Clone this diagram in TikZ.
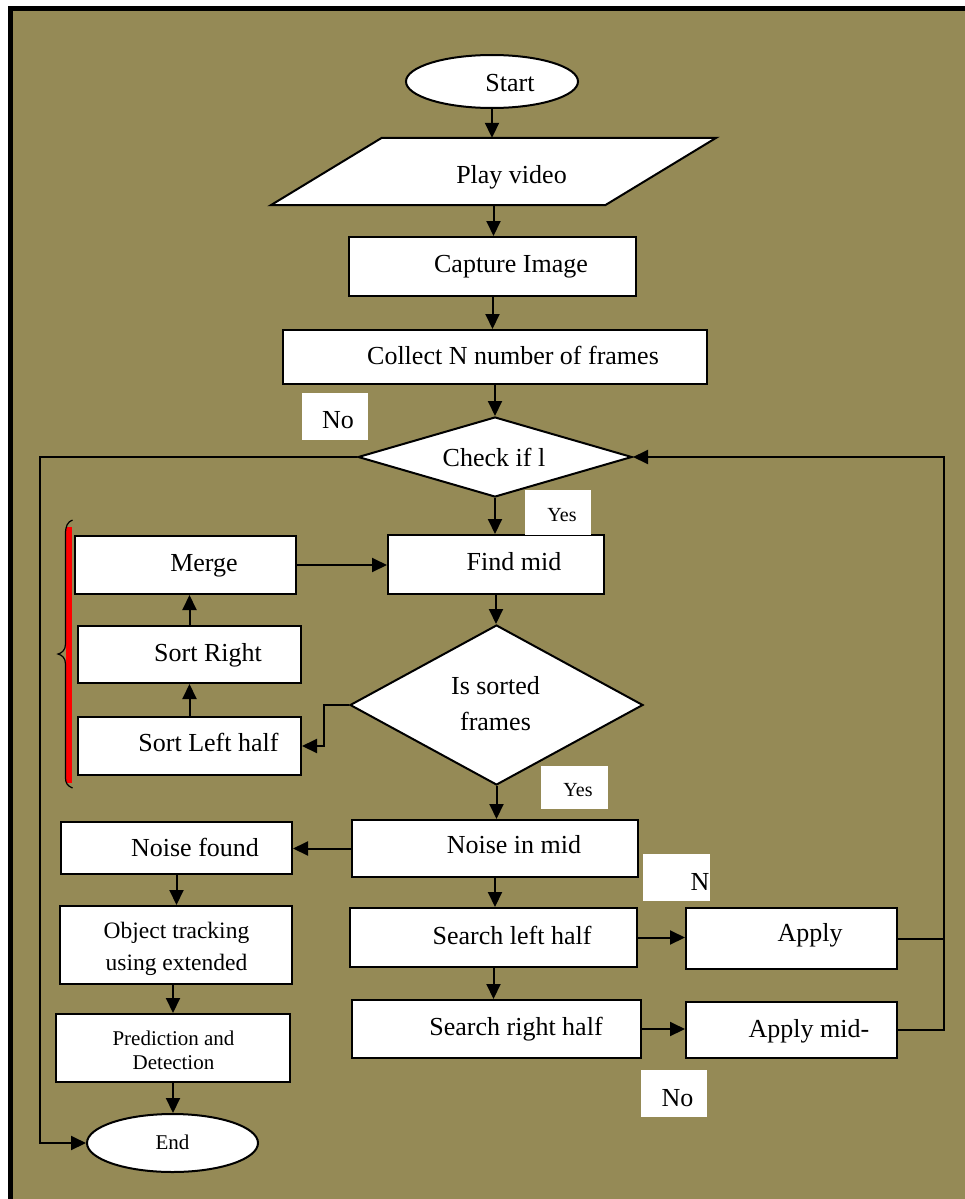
\documentclass[tikz,border=0pt]{standalone}
\usepackage{fontspec}
\setmainfont{Liberation Serif}
\usetikzlibrary{shapes.geometric,arrows.meta}
\definecolor{olivebg}{RGB}{149,138,86}
\begin{document}
\begin{tikzpicture}[x=1pt,y=-1pt,
  lbl/.style={font=\fontsize{26}{30}\selectfont, text height=17.7pt, text depth=5.7pt, inner sep=0pt},
  sml/.style={font=\fontsize{20}{24}\selectfont, text height=13.6pt, text depth=4.4pt, inner sep=0pt},
  end/.style={font=\fontsize{21}{25}\selectfont, text height=14.3pt, text depth=4.6pt, inner sep=0pt},
  box/.style 2 args={rectangle, draw, fill=white, line width=2pt, inner sep=0pt, minimum width=#1, minimum height=#2},
  term/.style 2 args={ellipse, draw, fill=white, line width=2pt, inner sep=0pt, minimum width=#1, minimum height=#2},
  dec/.style 2 args={diamond, draw, fill=white, line width=2pt, inner sep=0pt, minimum width=#1, minimum height=#2},
  frame/.style 2 args={rectangle, inner sep=0pt, minimum width=#1, minimum height=#2},
  tag/.style 2 args={rectangle, fill=white, inner sep=0pt, minimum width=#1, minimum height=#2},
  arr/.style={line width=2pt, -{Triangle[length=15pt,width=14pt]}},
  ln/.style={line width=2pt}]
\useasboundingbox (0,0) rectangle (965,1199);
% background and frame
\fill[white] (0,0) rectangle (965,1199);
\fill[olivebg] (10.8,9) rectangle (965,1199);
\draw[line width=5pt] (8.3,9) -- (965,9);
\draw[line width=5pt] (10.8,6.5) -- (10.8,1199);

% main column
\node[term={172}{53}, label={[lbl,shift={(18,4)}]center:Start}] (start) at (492,81.5) {};
\node[frame={334}{67}] (play) at (493.5,171.5) {};
\draw[line width=2pt, fill=white] ([xshift=55.5]play.north west) -- ([xshift=55.5]play.north east)
  -- ([xshift=-55.5]play.south east) -- ([xshift=-55.5]play.south west) -- cycle;
\node[lbl] (playtext) at ([shift={(18,6)}]play.center) {Play video};
\node[box={287}{59}, label={[lbl,shift={(18.5,0)}]center:Capture Image}] (capture) at (492.5,266.5) {};
\node[box={424}{54}, label={[lbl,shift={(18,1.5)}]center:Collect N number of frames}] (collect) at (495,357) {};
\node[dec={274}{80}, label={[lbl,shift={(-1,3)}]center:Check if l}] (check) at (495,457) {};
\node[box={216}{59}, label={[lbl,shift={(18,0)}]center:Find mid}] (find) at (496,564.5) {};
\node[dec={293}{160}, label={[font=\fontsize{26}{36}\selectfont, align=center, inner sep=0pt, shift={(-1,-1)}]center:Is sorted\\frames}] (sorted) at (496.5,705) {};
\node[box={286}{57}, label={[lbl,shift={(19,-1)}]center:Noise in mid}] (noisemid) at (495,848.5) {};
\node[box={287}{59}, label={[lbl,shift={(18.5,1)}]center:Search left half}] (searchl) at (493.5,937.5) {};
\node[box={289}{58}, label={[lbl,shift={(19.5,0.5)}]center:Search right half}] (searchr) at (496.5,1029) {};
\node[box={211}{61}, label={[lbl,shift={(18.5,-3)}]center:Apply}] (apply) at (791.5,938.5) {};
\node[box={211}{56}, label={[lbl,shift={(17.5,1)}]center:Apply mid-}] (applymid) at (791.5,1030) {};

% left column
\node[box={221}{58}, label={[lbl,shift={(18.5,0.5)}]center:Merge}] (merge) at (185.5,565) {};
\node[box={223}{57}, label={[lbl,shift={(18.5,1)}]center:Sort Right}] (sortr) at (189.5,654.5) {};
\node[box={223}{58}, label={[lbl,shift={(19,-0.5)}]center:Sort Left half}] (sortl) at (189.5,746) {};
\node[box={231}{52}, label={[lbl,shift={(18.5,2.5)}]center:Noise found}] (noisefound) at (176.5,848) {};
\node[box={232}{78}, label={[font=\fontsize{23.5}{32}\selectfont, align=center, inner sep=0pt, shift={(0.5,4)}]center:Object tracking\\using extended}] (track) at (176,945) {};
\node[box={234}{68}, label={[font=\fontsize{21}{24}\selectfont, align=center, inner sep=0pt, shift={(0.5,2)}]center:Prediction and\\Detection}] (pred) at (173,1048) {};
\node[term={171}{58}, label={[end,shift={(0,2)}]center:End}] (end) at (172.5,1143) {};

% brace
\fill[red] (66,527) rectangle (72,783);
\draw[line width=1.2pt] (72.5,520) .. controls (67.5,522) and (65.5,526) .. (65.5,534) -- (65.5,644) .. controls (65.5,650) and (62,653) .. (58,654) .. controls (62,655) and (65.5,658) .. (65.5,664) -- (65.5,778) .. controls (65.5,783) and (67.5,786) .. (72.5,788);

% connectors
\coordinate (lc) at (40,457);
\coordinate (rc) at (944,457);
\draw[arr] (start.south) -- (start.south |- play.north);
\draw[arr] (play.south) -- (play.south |- capture.north);
\draw[arr] (capture.south) -- (capture.south |- collect.north);
\draw[arr] (collect.south) -- (collect.south |- check.north);
\draw[arr] (check.south) -- (check.south |- find.north);
\draw[arr] (merge.east) -- (merge.east -| find.west);
\draw[arr] (find.south) -- (find.south |- sorted.north);
\draw[arr] (sortr.north) -- (sortr.north |- merge.south);
\draw[arr] (sortl.north) -- (sortl.north |- sortr.south);
\draw[arr] (sorted.west) -- ++(-25,0) |- (sortl.east);
\draw[arr] (sorted.south) -- (sorted.south |- noisemid.north);
\draw[arr] (noisemid.west) -- (noisemid.west -| noisefound.east);
\draw[arr] (noisefound.south) -- (noisefound.south |- track.north);
\draw[arr] (pred.north |- track.south) -- (pred.north);
\draw[arr] (pred.south) -- (pred.south |- end.north);
\draw[arr] (check.west) -- (lc) |- (end.west);
\draw[arr] (noisemid.south) -- (noisemid.south |- searchl.north);
\draw[arr] (searchl.east) -- (searchl.east -| apply.west);
\draw[arr] (searchl.south) -- (searchl.south |- searchr.north);
\draw[arr] (searchr.east) -- (searchr.east -| applymid.west);
\draw[ln] (apply.east) -- (apply.east -| rc);
\draw[arr] (applymid.east) -| (rc) -- (check.east);

% answer tags
\node[tag={66}{47}, label={[lbl,shift={(3,6)}]center:No}] (no1) at (335,416.5) {};
\node[tag={66}{45}, label={[sml,shift={(4,4.5)}]center:Yes}] (yes1) at (558,512.5) {};
\node[tag={67}{43}, label={[sml,shift={(3.5,4.5)}]center:Yes}] (yes2) at (574.5,787.5) {};
\node[tag={67}{47}, label={[lbl,shift={(23.5,6.5)}]center:N}] (n1) at (676.5,877.5) {};
\node[tag={66}{47}, label={[lbl,shift={(3.5,6.5)}]center:No}] (no2) at (674,1093.5) {};
\end{tikzpicture}
\end{document}
